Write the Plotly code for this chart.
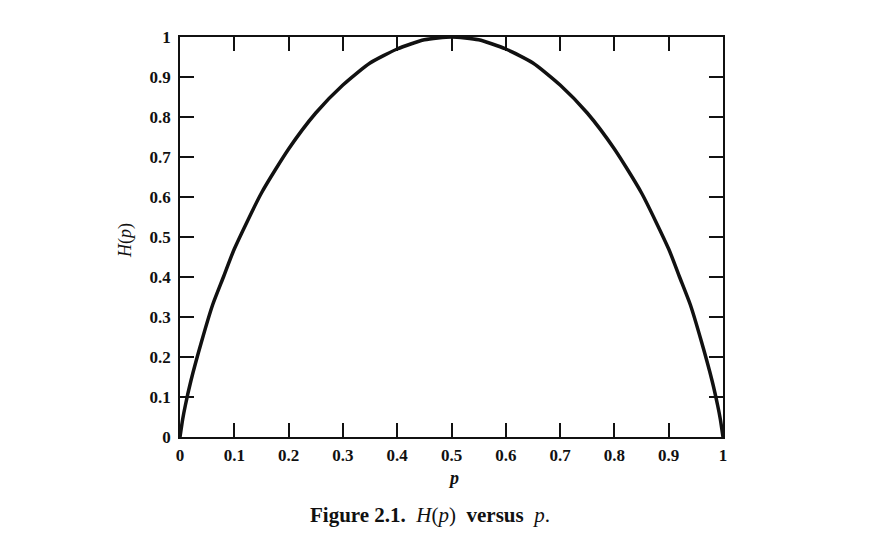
import plotly.graph_objects as go

# Values
p_vals = [0, 0.005, 0.01, 0.02, 0.04, 0.06, 0.08, 0.1, 0.15, 0.2, 0.25, 0.3, 0.35, 0.4, 0.45,
          0.5, 0.55, 0.6, 0.65, 0.7, 0.75, 0.8, 0.85, 0.9, 0.92, 0.94, 0.96, 0.98, 0.99, 0.995, 1]
h_vals = [0, 0.045, 0.08, 0.14, 0.24, 0.33, 0.40, 0.47, 0.61, 0.72, 0.81, 0.88, 0.935, 0.97, 0.993,
          1.0, 0.993, 0.97, 0.935, 0.88, 0.81, 0.72, 0.61, 0.47, 0.40, 0.33, 0.24, 0.14, 0.08, 0.045, 0]

tick_vals = [0, 0.1, 0.2, 0.3, 0.4, 0.5, 0.6, 0.7, 0.8, 0.9, 1]
tick_text = ["<b>0</b>", "<b>0.1</b>", "<b>0.2</b>", "<b>0.3</b>", "<b>0.4</b>", "<b>0.5</b>",
             "<b>0.6</b>", "<b>0.7</b>", "<b>0.8</b>", "<b>0.9</b>", "<b>1</b>"]

FONT = "Liberation Serif"
INK = "#111111"

fig = go.Figure()
fig.add_trace(go.Scatter(x=p_vals, y=h_vals, mode="lines",
                         line=dict(color=INK, width=3.5, shape="spline", smoothing=0.6),
                         hoverinfo="skip", showlegend=False))

axis_common = dict(range=[0, 1], showline=True, linecolor=INK, linewidth=1.8, mirror="ticks",
                   ticks="inside", ticklen=14, tickwidth=1.5, tickcolor=INK,
                   showgrid=False, zeroline=False, tickvals=tick_vals, ticktext=tick_text,
                   tickfont=dict(family=FONT, size=17, color=INK),
                   fixedrange=True)

fig.update_xaxes(**axis_common, ticklabelstandoff=2)
fig.update_yaxes(**axis_common, ticklabelstandoff=4)

fig.update_layout(
    width=886, height=535,
    margin=dict(l=180, r=163, t=37, b=98),
    paper_bgcolor="white", plot_bgcolor="white",
    font=dict(family=FONT, color=INK),
    annotations=[
        dict(text="<b><i>p</i></b>", xref="paper", yref="paper", x=(453 - 180) / 543, y=-(478 - 437) / 400,
             showarrow=False, font=dict(family=FONT, size=18, color=INK), xanchor="center", yanchor="middle"),
        dict(text="<i>H</i>(<i>p</i>)", xref="paper", yref="paper", x=-(180 - 125) / 543, y=(437 - 241) / 400,
             textangle=-90, showarrow=False, font=dict(family=FONT, size=18, color=INK),
             xanchor="center", yanchor="middle"),
        dict(text="<b>Figure 2.1.</b>  <i>H</i>(<i>p</i>)  <b>versus</b>  <i>p</i>.", xref="paper", yref="paper",
             x=(430 - 180) / 543, y=-(515 - 437) / 400, showarrow=False,
             font=dict(family=FONT, size=21, color=INK), xanchor="center", yanchor="middle"),
    ],
)

fig.write_html("out.html")
